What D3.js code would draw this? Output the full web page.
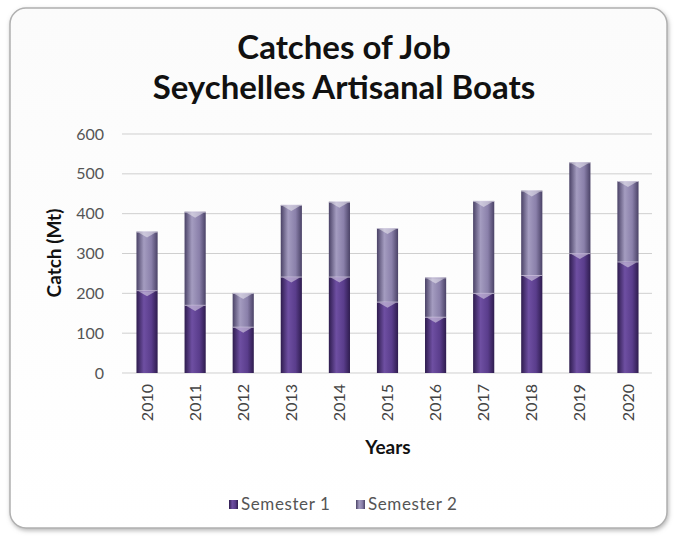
<!DOCTYPE html>
<html><head><meta charset="utf-8">
<script src="https://cdn.jsdelivr.net/npm/d3@7"></script>
<style>body{margin:0;background:#fff;}svg{display:block;}</style>
</head><body>
<svg id="chart" width="680" height="540"></svg>
<script>
const years = ["2010","2011","2012","2013","2014","2015","2016","2017","2018","2019","2020"];
const semester1 = [208,171,116,242,242,179,141,201,246,301,280];
const semester2 = [147,234,85,180,188,185,99,231,212,228,202];
const yTicks = [0,100,200,300,400,500,600];
const seriesNames = ["Semester 1","Semester 2"];

const svg = d3.select("#chart");
const defs = svg.append("defs");
const font = "Lato, 'Open Sans', sans-serif";

// frame shadow + subtle background
const f = defs.append("filter").attr("id","sh").attr("x","-5%").attr("y","-5%").attr("width","110%").attr("height","110%");
f.append("feDropShadow").attr("dx",1).attr("dy",2).attr("stdDeviation",2).attr("flood-color","#888").attr("flood-opacity",0.6);
const bg = defs.append("linearGradient").attr("id","bg").attr("x1","0").attr("x2","0").attr("y1","0").attr("y2","1");
bg.append("stop").attr("offset","0").attr("stop-color","#fbfbfb");
bg.append("stop").attr("offset","1").attr("stop-color","#ffffff");
svg.append("rect").attr("x",10).attr("y",8).attr("width",657).attr("height",520).attr("rx",16)
  .attr("fill","url(#bg)").attr("stroke","#b0b0b0").attr("stroke-width",1.5).attr("filter","url(#sh)");

function cyl(id, dark, mid, light){
  const g = defs.append("linearGradient").attr("id",id).attr("x1","0").attr("x2","1").attr("y1","0").attr("y2","0");
  g.append("stop").attr("offset","0").attr("stop-color",dark);
  g.append("stop").attr("offset","0.35").attr("stop-color",light);
  g.append("stop").attr("offset","0.7").attr("stop-color",mid);
  g.append("stop").attr("offset","1").attr("stop-color",dark);
}
cyl("g1","#2e1c4e","#5a3d8c","#6e4fa2");
cyl("g2","#4a4266","#8a80aa","#a49cc0");

const x = d3.scaleBand().domain(years).range([123,652]).paddingInner(0.56).paddingOuter(0.28);
const y = d3.scaleLinear().domain([0,600]).range([373,134]);

// grid
svg.append("g").selectAll("line").data(yTicks).join("line")
  .attr("x1",122).attr("x2",652).attr("y1",d=>y(d)).attr("y2",d=>y(d))
  .attr("stroke","#cfcfcf").attr("stroke-width",1);

// y axis labels
const yAxis = d3.axisLeft(y).tickValues(yTicks).tickSize(0).tickPadding(0);
const ya = svg.append("g").attr("transform","translate(104,0)").call(yAxis);
ya.select(".domain").remove();
ya.selectAll("text").attr("font-family",font).attr("font-size",16).attr("fill","#555");

// x axis labels
const xAxis = d3.axisBottom(x).tickSize(0).tickPadding(0);
const xa = svg.append("g").attr("transform","translate(0,381)").call(xAxis);
xa.select(".domain").remove();
xa.selectAll("text").attr("font-family",font).attr("font-size",16).attr("fill","#444")
  .attr("transform","rotate(-90)").attr("text-anchor","end").attr("dx","-3").attr("dy","0.35em").attr("x",0).attr("y",0);

// stacked
const data = years.map((yr,i)=>({year:yr, s1:semester1[i], s2:semester2[i]}));
const stack = d3.stack().keys(["s1","s2"])(data);
const fills = ["url(#g1)","url(#g2)"];
stack.forEach((layer,li)=>{
  const g = svg.append("g");
  g.selectAll("rect").data(layer).join("rect")
    .attr("x",d=>x(d.data.year)).attr("width",x.bandwidth())
    .attr("y",d=>y(d[1])).attr("height",d=>y(d[0])-y(d[1]))
    .attr("fill",fills[li]);
  g.selectAll("path").data(layer).join("path")
    .attr("d",d=>{const x0=x(d.data.year), w=x.bandwidth(), t=y(d[1]);
      return `M${x0+2},${t+1}L${x0+w-2},${t+1}L${x0+w/2},${t+6}Z`;})
    .attr("fill","#ffffff").attr("opacity",0.45);
  g.selectAll("line").data(layer).join("line")
    .attr("x1",d=>x(d.data.year)).attr("x2",d=>x(d.data.year)+x.bandwidth())
    .attr("y1",d=>y(d[1])+0.5).attr("y2",d=>y(d[1])+0.5)
    .attr("stroke","#e8e4f0").attr("stroke-width",1).attr("opacity",0.7);
});

// titles
svg.append("text").attr("x",344).attr("y",59).attr("text-anchor","middle")
  .attr("font-family",font).attr("font-weight","bold").attr("font-size",33).attr("fill","#111").text("Catches of Job");
svg.append("text").attr("x",344).attr("y",99).attr("text-anchor","middle")
  .attr("font-family",font).attr("font-weight","bold").attr("font-size",33).attr("fill","#111").text("Seychelles Artisanal  Boats");
svg.append("text").attr("transform","translate(61,253) rotate(-90)").attr("text-anchor","middle")
  .attr("font-family",font).attr("font-weight","bold").attr("font-size",19).attr("fill","#111").text("Catch (Mt)");
svg.append("text").attr("x",388).attr("y",454).attr("text-anchor","middle")
  .attr("font-family",font).attr("font-weight","bold").attr("font-size",19).attr("fill","#111").text("Years");

// legend
const legX = [229,356];
const lg = svg.append("g");
seriesNames.forEach((n,i)=>{
  lg.append("rect").attr("x",legX[i]).attr("y",500).attr("width",9).attr("height",9).attr("fill",fills[i]);
  lg.append("text").attr("x",legX[i]+12).attr("y",510).attr("font-family",font).attr("font-size",17)
    .attr("letter-spacing",0.6).attr("fill","#555").text(n);
});
</script>
</body></html>
